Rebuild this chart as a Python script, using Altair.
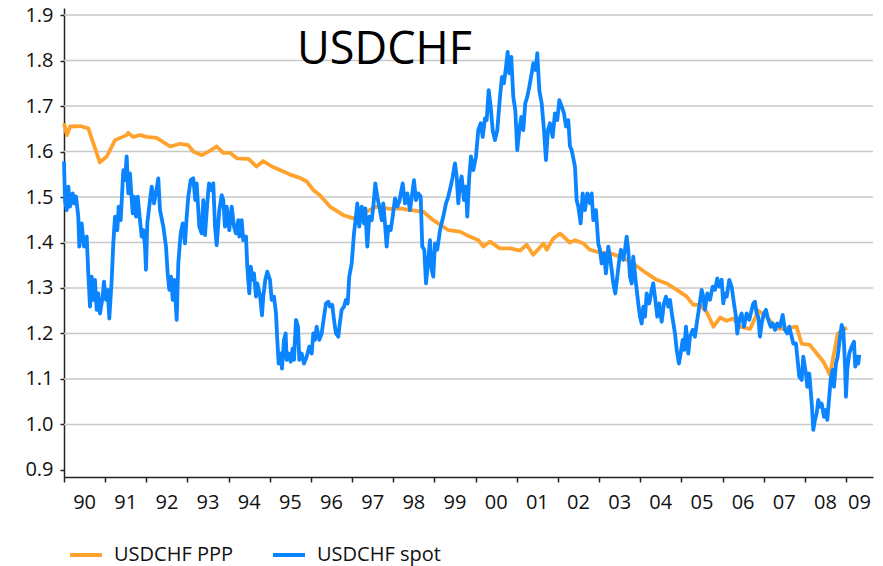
import altair as alt
import pandas as pd

TITLE = "USDCHF"
SERIES = ["USDCHF PPP", "USDCHF spot"]
COLORS = ["#FFA22E", "#0A84FF"]

YEAR_TICKS = list(range(1990, 2010))
YEAR_LABELS = ["90", "91", "92", "93", "94", "95", "96", "97", "98", "99",
               "00", "01", "02", "03", "04", "05", "06", "07", "08", "09"]
X_MIN, X_MAX = 1990.0, 2009.656
Y_TICKS = [0.9, 1.0, 1.1, 1.2, 1.3, 1.4, 1.5, 1.6, 1.7, 1.8, 1.9]
GRID_VALUES = [1.0, 1.1, 1.2, 1.3, 1.4, 1.5, 1.6, 1.7, 1.8, 1.9]

ppp_year = [1990.00, 1990.07, 1990.15, 1990.39, 1990.59, 1990.87, 1991.04, 1991.24, 1991.52, 1991.56,
            1991.68, 1991.85, 1992.01, 1992.25, 1992.58, 1992.82, 1993.02, 1993.14, 1993.35, 1993.55,
            1993.71, 1993.87, 1994.03, 1994.20, 1994.48, 1994.68, 1994.84, 1995.05, 1995.33, 1995.53,
            1995.73, 1995.90, 1996.06, 1996.22, 1996.46, 1996.79, 1997.03, 1997.35, 1997.60, 1997.92,
            1998.16, 1998.41, 1998.73, 1998.97, 1999.34, 1999.62, 1999.86, 2000.07, 2000.19, 2000.35,
            2000.59, 2000.84, 2001.08, 2001.24, 2001.40, 2001.65, 2001.73, 2001.89, 2002.05, 2002.29,
            2002.42, 2002.62, 2002.78, 2003.02, 2003.27, 2003.51, 2003.83, 2004.16, 2004.40, 2004.64,
            2004.89, 2005.13, 2005.29, 2005.45, 2005.61, 2005.78, 2005.94, 2006.10, 2006.26, 2006.42,
            2006.67, 2006.87, 2007.07, 2007.32, 2007.56, 2007.80, 2007.92, 2008.12, 2008.29, 2008.45,
            2008.61, 2008.80, 2009.02]
ppp_value = [1.662, 1.636, 1.655, 1.656, 1.651, 1.576, 1.589, 1.625, 1.636, 1.641,
             1.632, 1.636, 1.632, 1.630, 1.611, 1.617, 1.614, 1.600, 1.592, 1.602,
             1.611, 1.597, 1.597, 1.585, 1.584, 1.567, 1.579, 1.567, 1.556, 1.548,
             1.542, 1.534, 1.515, 1.504, 1.479, 1.460, 1.453, 1.468, 1.479, 1.474,
             1.475, 1.471, 1.468, 1.449, 1.427, 1.424, 1.413, 1.405, 1.391, 1.402,
             1.387, 1.387, 1.382, 1.395, 1.373, 1.398, 1.384, 1.409, 1.420, 1.400,
             1.405, 1.398, 1.384, 1.378, 1.376, 1.369, 1.354, 1.332, 1.318, 1.310,
             1.296, 1.281, 1.263, 1.263, 1.248, 1.215, 1.235, 1.228, 1.233, 1.215,
             1.210, 1.250, 1.237, 1.211, 1.211, 1.215, 1.178, 1.175, 1.156, 1.138,
             1.109, 1.200, 1.213]

spot_year = [
    1990.000, 1990.024, 1990.066, 1990.104, 1990.146, 1990.211, 1990.243, 1990.292, 1990.347, 1990.372,
    1990.430, 1990.486, 1990.552, 1990.590, 1990.632, 1990.673, 1990.712, 1990.753, 1990.794, 1990.833,
    1990.875, 1990.940, 1990.972, 1991.020, 1991.062, 1991.101, 1991.159, 1991.198, 1991.239, 1991.295,
    1991.329, 1991.378, 1991.441, 1991.482, 1991.523, 1991.562, 1991.603, 1991.669, 1991.701, 1991.749,
    1991.791, 1991.846, 1991.888, 1991.927, 1991.968, 1991.992, 1992.024, 1992.089, 1992.131, 1992.187,
    1992.252, 1992.291, 1992.332, 1992.413, 1992.478, 1992.519, 1992.558, 1992.600, 1992.641, 1992.680,
    1992.738, 1992.777, 1992.835, 1992.884, 1992.940, 1992.981, 1993.020, 1993.078, 1993.141, 1993.190,
    1993.224, 1993.287, 1993.345, 1993.384, 1993.426, 1993.481, 1993.523, 1993.588, 1993.627, 1993.669,
    1993.710, 1993.773, 1993.831, 1993.870, 1993.912, 1993.953, 1994.016, 1994.074, 1994.130, 1994.179,
    1994.235, 1994.259, 1994.317, 1994.356, 1994.422, 1994.453, 1994.502, 1994.536, 1994.585, 1994.616,
    1994.665, 1994.696, 1994.762, 1994.810, 1994.842, 1994.891, 1994.939, 1995.005, 1995.046, 1995.102,
    1995.151, 1995.182, 1995.216, 1995.265, 1995.296, 1995.345, 1995.386, 1995.411, 1995.459, 1995.508,
    1995.556, 1995.588, 1995.637, 1995.685, 1995.717, 1995.775, 1995.831, 1995.896, 1995.960, 1996.018,
    1996.057, 1996.098, 1996.139, 1996.203, 1996.261, 1996.300, 1996.365, 1996.421, 1996.463, 1996.518,
    1996.560, 1996.608, 1996.664, 1996.706, 1996.747, 1996.803, 1996.851, 1996.893, 1996.931, 1996.990,
    1997.046, 1997.094, 1997.126, 1997.174, 1997.233, 1997.289, 1997.320, 1997.369, 1997.417, 1997.476,
    1997.515, 1997.563, 1997.612, 1997.660, 1997.719, 1997.757, 1997.799, 1997.840, 1997.879, 1997.937,
    1997.986, 1998.042, 1998.098, 1998.146, 1998.229, 1998.285, 1998.341, 1998.406, 1998.472, 1998.503,
    1998.552, 1998.608, 1998.666, 1998.705, 1998.754, 1998.795, 1998.851, 1998.892, 1998.933, 1998.972,
    1999.014, 1999.069, 1999.135, 1999.215, 1999.281, 1999.337, 1999.395, 1999.444, 1999.499, 1999.541,
    1999.580, 1999.621, 1999.662, 1999.718, 1999.767, 1999.798, 1999.847, 1999.888, 1999.944, 2000.010,
    2000.066, 2000.124, 2000.173, 2000.228, 2000.270, 2000.318, 2000.367, 2000.415, 2000.471, 2000.527,
    2000.593, 2000.641, 2000.690, 2000.739, 2000.780, 2000.819, 2000.867, 2000.916, 2000.965, 2001.013,
    2001.062, 2001.110, 2001.159, 2001.207, 2001.256, 2001.305, 2001.363, 2001.402, 2001.460, 2001.499,
    2001.548, 2001.606, 2001.662, 2001.710, 2001.759, 2001.808, 2001.873, 2001.929, 2001.985, 2002.034,
    2002.092, 2002.148, 2002.196, 2002.252, 2002.294, 2002.335, 2002.415, 2002.456, 2002.495, 2002.553,
    2002.602, 2002.658, 2002.714, 2002.779, 2002.821, 2002.860, 2002.925, 2002.981, 2003.022, 2003.064,
    2003.120, 2003.168, 2003.224, 2003.265, 2003.306, 2003.346, 2003.394, 2003.443, 2003.491, 2003.533,
    2003.589, 2003.630, 2003.671, 2003.710, 2003.751, 2003.793, 2003.831, 2003.897, 2003.953, 2003.994,
    2004.036, 2004.074, 2004.116, 2004.157, 2004.220, 2004.279, 2004.317, 2004.359, 2004.415, 2004.463,
    2004.521, 2004.577, 2004.626, 2004.682, 2004.723, 2004.779, 2004.845, 2004.886, 2004.942, 2004.983,
    2005.032, 2005.070, 2005.112, 2005.168, 2005.209, 2005.274, 2005.330, 2005.386, 2005.435, 2005.493,
    2005.532, 2005.573, 2005.629, 2005.695, 2005.760, 2005.816, 2005.872, 2005.921, 2005.979, 2006.018,
    2006.059, 2006.101, 2006.164, 2006.222, 2006.278, 2006.327, 2006.358, 2006.407, 2006.465, 2006.521,
    2006.586, 2006.650, 2006.708, 2006.747, 2006.788, 2006.829, 2006.868, 2006.910, 2006.951, 2007.007,
    2007.055, 2007.111, 2007.170, 2007.218, 2007.274, 2007.330, 2007.396, 2007.461, 2007.517, 2007.573,
    2007.622, 2007.679, 2007.719, 2007.784, 2007.816, 2007.865, 2007.923, 2007.962, 2008.027, 2008.059,
    2008.108, 2008.141, 2008.173, 2008.205, 2008.246, 2008.287, 2008.326, 2008.367, 2008.409, 2008.465,
    2008.513, 2008.545, 2008.593, 2008.627, 2008.676, 2008.707, 2008.756, 2008.797, 2008.836, 2008.895,
    2008.934, 2008.975, 2008.999, 2009.031, 2009.079, 2009.137, 2009.194, 2009.225, 2009.259, 2009.298,
    2009.323]
spot_value = [
    1.578, 1.493, 1.471, 1.523, 1.479, 1.508, 1.486, 1.501, 1.457, 1.391,
    1.442, 1.391, 1.413, 1.332, 1.259, 1.325, 1.274, 1.318, 1.252, 1.288,
    1.244, 1.281, 1.314, 1.274, 1.296, 1.233, 1.318, 1.398, 1.457, 1.427,
    1.479, 1.449, 1.559, 1.537, 1.589, 1.508, 1.552, 1.464, 1.501, 1.457,
    1.501, 1.449, 1.413, 1.427, 1.391, 1.340, 1.442, 1.493, 1.523, 1.486,
    1.519, 1.541, 1.471, 1.435, 1.391, 1.332, 1.296, 1.325, 1.274, 1.318,
    1.230, 1.354, 1.420, 1.442, 1.398, 1.457, 1.501, 1.537, 1.541, 1.493,
    1.530, 1.435, 1.420, 1.493, 1.416, 1.486, 1.530, 1.515, 1.530, 1.435,
    1.394, 1.471, 1.504, 1.493, 1.435, 1.479, 1.427, 1.479, 1.435, 1.420,
    1.449, 1.413, 1.449, 1.405, 1.413, 1.347, 1.288, 1.347, 1.318, 1.332,
    1.281, 1.310, 1.284, 1.240, 1.281, 1.318, 1.336, 1.318, 1.274, 1.281,
    1.244, 1.186, 1.134, 1.156, 1.123, 1.186, 1.200, 1.142, 1.156, 1.138,
    1.167, 1.142, 1.230, 1.215, 1.142, 1.156, 1.134, 1.149, 1.171, 1.156,
    1.200, 1.186, 1.215, 1.186, 1.200, 1.226, 1.266, 1.270, 1.259, 1.263,
    1.230, 1.200, 1.193, 1.226, 1.252, 1.259, 1.274, 1.266, 1.325, 1.354,
    1.420, 1.457, 1.486, 1.435, 1.479, 1.442, 1.475, 1.391, 1.457, 1.449,
    1.479, 1.530, 1.501, 1.479, 1.449, 1.486, 1.442, 1.391, 1.435, 1.427,
    1.457, 1.497, 1.479, 1.490, 1.530, 1.486, 1.508, 1.471, 1.515, 1.537,
    1.493, 1.508, 1.501, 1.391, 1.384, 1.310, 1.362, 1.405, 1.340, 1.325,
    1.398, 1.384, 1.427, 1.457, 1.486, 1.501, 1.523, 1.545, 1.574, 1.545,
    1.486, 1.530, 1.545, 1.493, 1.523, 1.457, 1.545, 1.589, 1.559, 1.589,
    1.647, 1.662, 1.632, 1.673, 1.669, 1.735, 1.699, 1.647, 1.625, 1.647,
    1.720, 1.764, 1.750, 1.786, 1.819, 1.772, 1.808, 1.720, 1.691, 1.603,
    1.647, 1.676, 1.647, 1.706, 1.720, 1.742, 1.772, 1.794, 1.779, 1.816,
    1.735, 1.706, 1.647, 1.581, 1.647, 1.662, 1.632, 1.684, 1.669, 1.713,
    1.699, 1.684, 1.655, 1.669, 1.611, 1.603, 1.567, 1.493, 1.479, 1.442,
    1.508, 1.471, 1.508, 1.486, 1.508, 1.449, 1.471, 1.398, 1.384, 1.354,
    1.376, 1.332, 1.391, 1.369, 1.340, 1.310, 1.288, 1.325, 1.362, 1.384,
    1.362, 1.384, 1.413, 1.384, 1.325, 1.310, 1.369, 1.310, 1.266, 1.237,
    1.222, 1.259, 1.237, 1.288, 1.266, 1.296, 1.310, 1.281, 1.237, 1.266,
    1.226, 1.266, 1.281, 1.259, 1.274, 1.237, 1.200, 1.164, 1.134, 1.156,
    1.186, 1.164, 1.215, 1.156, 1.193, 1.208, 1.193, 1.230, 1.259, 1.296,
    1.281, 1.252, 1.288, 1.274, 1.303, 1.296, 1.321, 1.303, 1.318, 1.266,
    1.288, 1.281, 1.318, 1.303, 1.266, 1.237, 1.200, 1.230, 1.244, 1.215,
    1.244, 1.230, 1.252, 1.266, 1.270, 1.244, 1.237, 1.193, 1.222, 1.244,
    1.252, 1.230, 1.215, 1.222, 1.208, 1.222, 1.215, 1.241, 1.208, 1.200,
    1.215, 1.193, 1.178, 1.178, 1.149, 1.105, 1.098, 1.149, 1.112, 1.083,
    1.112, 1.076, 1.039, 0.988, 1.010, 1.024, 1.054, 1.039, 1.046, 1.017,
    1.032, 1.010, 1.061, 1.098, 1.120, 1.083, 1.134, 1.149, 1.178, 1.219,
    1.208, 1.134, 1.061, 1.120, 1.156, 1.171, 1.182, 1.127, 1.149, 1.134,
    1.153]

FONT = "Open Sans"

lines_df = pd.concat([
    pd.DataFrame({"year": ppp_year, "value": ppp_value, "series": SERIES[0]}),
    pd.DataFrame({"year": spot_year, "value": spot_value, "series": SERIES[1]}),
], ignore_index=True)

label_df = pd.DataFrame({
    "tick": YEAR_TICKS,
    "label": YEAR_LABELS,
})
label_df["mid"] = [(t + min(t + 1, X_MAX)) / 2 for t in YEAR_TICKS]

grid_df = pd.DataFrame({"g": GRID_VALUES})

x_scale = alt.Scale(domain=[X_MIN, X_MAX], nice=False, zero=False)
y_scale = alt.Scale(domain=[0.8846, 1.9154], nice=False, zero=False)

y_axis = alt.Axis(values=Y_TICKS, format=".1f", grid=False, title=None,
                  tickSize=4, tickWidth=1.5, tickColor="#222222",
                  domainColor="#222222", domainWidth=1.5,
                  labelFont=FONT, labelFontSize=20, labelColor="#111111",
                  labelPadding=7)
x_axis = alt.Axis(values=YEAR_TICKS, labels=False, grid=False, title=None,
                  tickSize=5, tickWidth=1.5, tickColor="#222222",
                  domainColor="#222222", domainWidth=1.5)

grid = alt.Chart(grid_df).mark_rule(color="#C8C8C8", strokeWidth=1.5).encode(
    y=alt.Y("g:Q", scale=y_scale, axis=y_axis)
)

lines = alt.Chart(lines_df).mark_line(strokeWidth=3.8, strokeJoin="round").encode(
    x=alt.X("year:Q", scale=x_scale, axis=x_axis),
    y=alt.Y("value:Q", scale=y_scale, axis=y_axis),
    color=alt.Color("series:N",
                    scale=alt.Scale(domain=SERIES, range=COLORS),
                    legend=alt.Legend(orient="none", legendX=4, legendY=529,
                                      direction="horizontal", title=None,
                                      symbolType="stroke", symbolSize=1024,
                                      symbolStrokeWidth=4, labelFont=FONT,
                                      labelFontSize=20, labelColor="#111111",
                                      labelOffset=10, columnPadding=31, padding=0)),
)

xlabels = alt.Chart(label_df).mark_text(font=FONT, fontSize=20, color="#111111",
                                         baseline="middle", align="center").encode(
    x=alt.X("mid:Q", scale=x_scale),
    y=alt.value(495),
    text="label:N",
)

title = alt.Chart(pd.DataFrame({"t": [TITLE]})).mark_text(
    font=FONT, fontSize=45, color="#000000", align="left", baseline="alphabetic"
).encode(
    x=alt.value(233),
    y=alt.value(56),
    text="t:N",
)

chart = alt.layer(grid, lines, xlabels, title).properties(
    width=809, height=469,
    autosize=alt.AutoSizeParams(type="none"),
    padding={"left": 56, "top": 0, "right": 2, "bottom": 89},
    background="white",
).configure_view(stroke=None)

chart.save("out.html", embed_options={"renderer": "svg", "actions": False})
